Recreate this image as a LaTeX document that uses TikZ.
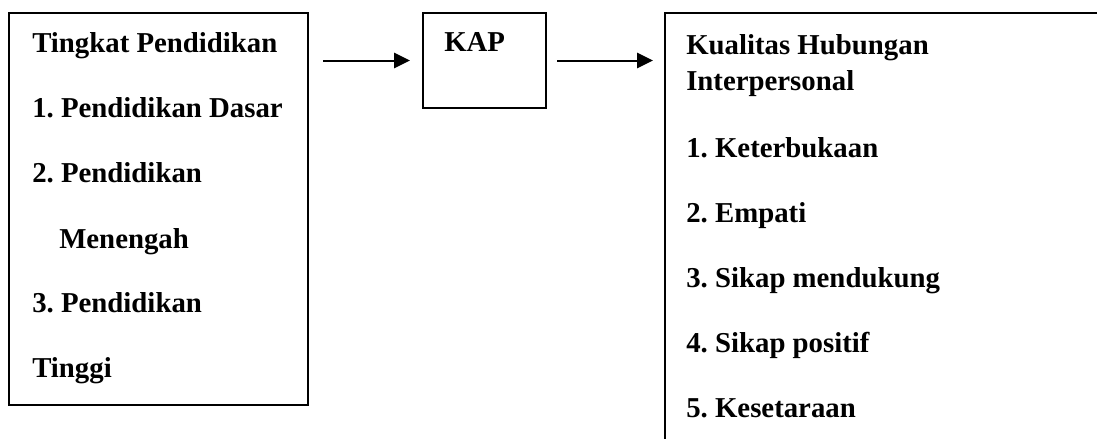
\documentclass[tikz,border=0pt]{standalone}
\usepackage{fontspec}
\setmainfont{Liberation Serif}
\usetikzlibrary{arrows.meta}
\frenchspacing

\tikzset{
  box/.style={draw, line width=1.5, inner sep=0, outer sep=0, anchor=north west},
  txt/.style={inner sep=0, anchor=base west, font=\fontsize{21.6}{26}\selectfont\bfseries},
  arr/.style={line width=1.5, -{Triangle[length=12pt,width=11.5pt]}}
}

\begin{document}
\begin{tikzpicture}[x=0.75pt,y=0.75pt,yscale=-1,xscale=1]
\useasboundingbox (0,0) rectangle (1097,439);

%Shape: Rectangle [id:lbox]
\node [box, minimum width=224.25pt, minimum height=294pt] (lbox) at (9,13) {};
%Shape: Rectangle [id:kap]
\node [box, minimum width=92.25pt, minimum height=71.25pt] (kap) at (423,13) {};
%Shape: Rectangle [id:rbox] (runs off the page)
\node [box, minimum width=345pt, minimum height=345pt] (rbox) at (665,13) {};

% Text Node
\node [txt] (tingkat) at (32,52) {Tingkat Pendidikan};
% Text Node
\node [txt] (dasar) at (32,117) {1. Pendidikan Dasar};
% Text Node
\node [txt] (menengah1) at (32,182) {2. Pendidikan};
% Text Node
\node [txt] (menengah2) at (59,248) {Menengah};
% Text Node
\node [txt] (tinggi1) at (32,312) {3. Pendidikan};
% Text Node
\node [txt] (tinggi2) at (32,377) {Tinggi};

% Text Node
\node [txt] (kaplabel) at (444,51) {KAP};

% Text Node
\node [txt] (kualitas) at (686,54) {Kualitas Hubungan};
% Text Node
\node [txt] (interp) at (686,90) {Interpersonal};
% Text Node
\node [txt] (terbuka) at (686,157) {1. Keterbukaan};
% Text Node
\node [txt] (empati) at (686,222) {2. Empati};
% Text Node
\node [txt] (dukung) at (686,287) {3. Sikap mendukung};
% Text Node
\node [txt] (positif) at (686,352) {4. Sikap positif};
% Text Node
\node [txt] (setara) at (686,417) {5. Kesetaraan};

%Arrows
\draw [arr, shorten <=11.25pt, shorten >=9.75pt] (lbox.east |- kap.west) -- (kap.west);
\draw [arr, shorten <=8.25pt, shorten >=9pt] (kap.east) -- (kap.east -| rbox.west);

\end{tikzpicture}
\end{document}
